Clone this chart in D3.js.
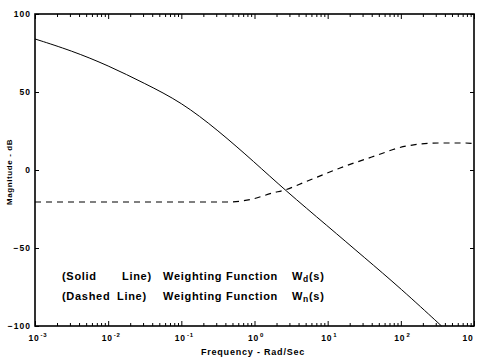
<!DOCTYPE html>
<html>
<head>
<meta charset="utf-8">
<script src="https://cdn.jsdelivr.net/npm/d3@7"></script>
<style>
  body { margin: 0; background: #fff; }
  svg { display: block; font-family: "Liberation Sans", Arial, sans-serif; font-weight: bold; }
</style>
</head>
<body>
<div id="chart"></div>
<script>
// data: frequency (rad/s) and magnitude (dB)
const solidFreq = [0.001, 0.00316, 0.01, 0.0316, 0.1, 0.316, 1, 2.6, 10, 31.6, 100, 360];
const solidDb   = [84, 76.5, 67, 55.5, 43.5, 25.5, 5, -12.8, -36, -56, -76, -100];

const dashedFreq = [0.001, 0.01, 0.1, 0.42, 0.87, 1.78, 2.6, 4.9, 14.8, 40, 120, 340, 740, 1000];
const dashedDb   = [-20.5, -20.5, -20.5, -20.5, -19, -14.7, -12.8, -7.7, 1.3, 8.3, 15.4, 17.3, 17.3, 17];

const xTicks = [0.001, 0.01, 0.1, 1, 10, 100, 1000];
const xExponents = ['-3', '-2', '-1', '0', '1', '2', ''];
const yTicks = [-100, -50, 0, 50, 100];

const legendRows = [
  { kind: '(Solid', line: 'Line)', sub: 'd' },
  { kind: '(Dashed', line: 'Line)', sub: 'n' }
];

const W = 477, H = 359;
const margin = { top: 14, right: 3, bottom: 33, left: 35 };
const iw = W - margin.left - margin.right;
const ih = H - margin.top - margin.bottom;

const svg = d3.select('#chart').append('svg')
  .attr('width', W)
  .attr('height', H);

const g = svg.append('g')
  .attr('transform', `translate(${margin.left},${margin.top})`);

const x = d3.scaleLog().domain([0.001, 1000]).range([0, iw]);
const y = d3.scaleLinear().domain([-100, 100]).range([ih, 0]);

// minor log ticks
const minor = [];
for (let e = -3; e < 3; e++) {
  for (let m = 2; m <= 9; m++) minor.push(m * Math.pow(10, e));
}

// bottom + top ticks, inward
g.append('g')
  .attr('transform', `translate(0,${ih})`)
  .call(d3.axisBottom(x).tickValues(minor).tickSize(-3).tickFormat(''))
  .call(a => a.select('.domain').remove());
g.append('g')
  .call(d3.axisTop(x).tickValues(minor).tickSize(-3).tickFormat(''))
  .call(a => a.select('.domain').remove());

const xAxis = g.append('g')
  .attr('transform', `translate(0,${ih})`)
  .call(d3.axisBottom(x).tickValues(xTicks).tickSize(-5).tickPadding(9).tickFormat(() => '10'));
xAxis.select('.domain').remove();
xAxis.selectAll('text')
  .attr('font-size', 8.5)
  .attr('font-weight', 'bold')
  .attr('letter-spacing', 0.8)
  .attr('font-family', '"Liberation Sans", Arial, sans-serif')
  .attr('fill', '#000')
  .each(function(d, i) {
    const t = d3.select(this);
    if (xExponents[i]) {
      t.attr('text-anchor', 'start').attr('x', -7);
      t.append('tspan')
        .attr('dy', -4)
        .attr('dx', 1)
        .attr('font-size', 6)
        .text(xExponents[i]);
    } else {
      t.attr('text-anchor', 'end').attr('x', -1);
    }
  });

g.append('g')
  .call(d3.axisTop(x).tickValues(xTicks).tickSize(-5).tickFormat(''))
  .call(a => a.select('.domain').remove());

const yAxis = g.append('g')
  .call(d3.axisLeft(y).tickValues(yTicks).tickSize(-4).tickPadding(4).tickFormat(d3.format('d')));
yAxis.select('.domain').remove();
yAxis.selectAll('text')
  .attr('font-size', 8.5)
  .attr('font-weight', 'bold')
  .attr('letter-spacing', 1)
  .attr('font-family', '"Liberation Sans", Arial, sans-serif')
  .attr('fill', '#000');

g.append('g')
  .attr('transform', `translate(${iw},0)`)
  .call(d3.axisRight(y).tickValues(yTicks).tickSize(-4).tickFormat(''))
  .call(a => a.select('.domain').remove());

// frame
g.append('rect')
  .attr('width', iw)
  .attr('height', ih)
  .attr('fill', 'none')
  .attr('stroke', '#000')
  .attr('stroke-width', 1.6);

// curves
const smooth = d3.line()
  .x(d => x(d[0]))
  .y(d => y(d[1]))
  .curve(d3.curveBasis);

const flat = d3.line()
  .x(d => x(d[0]))
  .y(d => y(d[1]))
  .curve(d3.curveMonotoneX);

g.append('path')
  .datum(d3.zip(solidFreq, solidDb))
  .attr('d', smooth)
  .attr('fill', 'none')
  .attr('stroke', '#000')
  .attr('stroke-width', 1);

g.append('path')
  .datum(d3.zip(dashedFreq, dashedDb))
  .attr('d', flat)
  .attr('fill', 'none')
  .attr('stroke', '#000')
  .attr('stroke-width', 1.2)
  .attr('stroke-dasharray', '6,5');

// legend text inside the plot
const legend = svg.append('g')
  .attr('font-size', 11)
  .attr('letter-spacing', 0.7)
  .attr('fill', '#000');

legendRows.forEach((r, i) => {
  const yy = 280 + i * 20;
  legend.append('text').attr('x', 62).attr('y', yy).text(r.kind);
  legend.append('text').attr('x', i === 0 ? 122 : 117).attr('y', yy).text(r.line);
  legend.append('text').attr('x', 163).attr('y', yy).text('Weighting Function');
  const w = legend.append('text').attr('x', 292).attr('y', yy).text('W');
  w.append('tspan').attr('font-size', 8.5).attr('dy', 2).text(r.sub);
  w.append('tspan').attr('dy', -2).text('(s)');
});

// axis titles
svg.append('text')
  .attr('x', 253)
  .attr('y', 355)
  .attr('text-anchor', 'middle')
  .attr('font-size', 9)
  .attr('letter-spacing', 0.8)
  .text('Frequency - Rad/Sec');

svg.append('text')
  .attr('transform', 'translate(12,172) rotate(-90)')
  .attr('text-anchor', 'middle')
  .attr('font-size', 8)
  .attr('letter-spacing', 0.6)
  .text('Magnitude - dB');
</script>
</body>
</html>
